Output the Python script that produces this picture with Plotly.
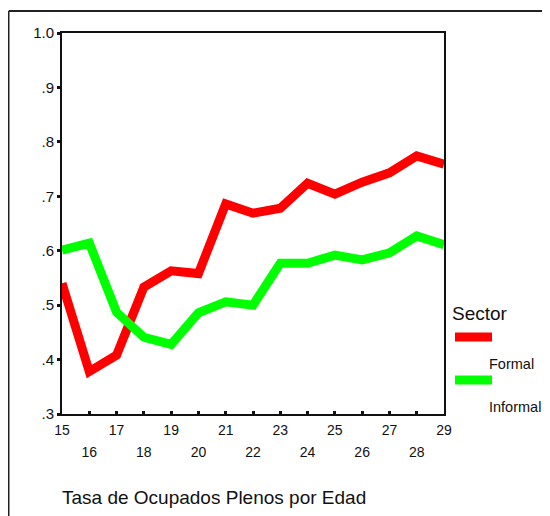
import plotly.graph_objects as go

ages = list(range(15, 30))
formal = [0.540, 0.378, 0.408, 0.533, 0.563, 0.558, 0.686, 0.669, 0.678, 0.724,
          0.704, 0.726, 0.743, 0.774, 0.759]
informal = [0.601, 0.614, 0.487, 0.441, 0.428, 0.486, 0.506, 0.500, 0.577, 0.577,
            0.592, 0.583, 0.596, 0.627, 0.611]
series_names = ["Formal", "Informal"]
series_colors = ["#ff0000", "#00ff00"]
legend_title = "Sector"
chart_title = "Tasa de Ocupados Plenos por Edad"
y_tickvals = [0.3, 0.4, 0.5, 0.6, 0.7, 0.8, 0.9, 1.0]
y_ticktext = [".3", ".4", ".5", ".6", ".7", ".8", ".9", "1.0"]

FONT = "Liberation Sans, Arial, sans-serif"

fig = go.Figure()
fig.add_trace(go.Scatter(x=ages, y=formal, mode="lines", name=series_names[0],
                         line=dict(color=series_colors[0], width=9)))
fig.add_trace(go.Scatter(x=ages, y=informal, mode="lines", name=series_names[1],
                         line=dict(color=series_colors[1], width=9), xaxis="x2"))

even = [a for a in ages if a % 2 == 0]

# page body has an 8px margin, so the figure is 542x508 placed at (8, 8)
fig.update_layout(
    width=542, height=508,
    margin=dict(l=54, r=106, t=25, b=102),
    paper_bgcolor="white", plot_bgcolor="white",
    showlegend=False,
    font=dict(family=FONT, color="#111111"),
    xaxis=dict(range=[15, 29], tickvals=ages,
               ticktext=[str(a) if a % 2 == 1 else "" for a in ages],
               ticks="inside", ticklen=3, tickwidth=3, tickcolor="#111111",
               showline=True, linecolor="#111111", linewidth=2, mirror=True,
               showgrid=False, zeroline=False,
               tickfont=dict(size=14), ticklabelstandoff=2),
    xaxis2=dict(range=[15, 29], overlaying="x", side="bottom", tickvals=even,
                ticktext=[str(a) for a in even], ticks="", showline=False,
                showgrid=False, zeroline=False,
                tickfont=dict(size=14),
                ticklabelstandoff=28),
    yaxis=dict(range=[0.3, 1.0], tickvals=y_tickvals, ticktext=y_ticktext,
               ticks="outside", ticklen=3, tickwidth=3, tickcolor="#111111",
               showline=True, linecolor="#111111", linewidth=2, mirror=True,
               showgrid=False, zeroline=False, tickfont=dict(size=15)),
)

# outer frame (left and top edges visible in the reference)
fig.add_shape(type="line", xref="paper", yref="paper", x0=-0.1394, x1=1.3,
              y0=1.058, y1=1.058, line=dict(color="#222222", width=2))
fig.add_shape(type="line", xref="paper", yref="paper", x0=-0.1394, x1=-0.1394,
              y0=-0.5, y1=1.058, line=dict(color="#222222", width=1.5))

# legend (manual layout as in the reference)
fig.add_annotation(xref="paper", yref="paper", x=1.0157, y=0.2625, text=legend_title,
                   showarrow=False, xanchor="left", yanchor="middle",
                   font=dict(size=19, family=FONT, color="#111111"))
sw_y = [0.2021, 0.0892]
lab_y = [0.1312, 0.0184]
for i in range(2):
    fig.add_shape(type="line", xref="paper", yref="paper", x0=1.0288, x1=1.1257,
                  y0=sw_y[i], y1=sw_y[i], line=dict(color=series_colors[i], width=9))
    fig.add_annotation(xref="paper", yref="paper", x=1.1126, y=lab_y[i],
                       text=series_names[i], showarrow=False, xanchor="left",
                       yanchor="middle", font=dict(size=14.5, family=FONT, color="#111111"))

fig.add_annotation(xref="paper", yref="paper", x=-0.005, y=-0.218, text=chart_title,
                   showarrow=False, xanchor="left", yanchor="middle",
                   font=dict(size=19, family=FONT, color="#111111"))

fig.write_html("out.html", config={"displayModeBar": False})
